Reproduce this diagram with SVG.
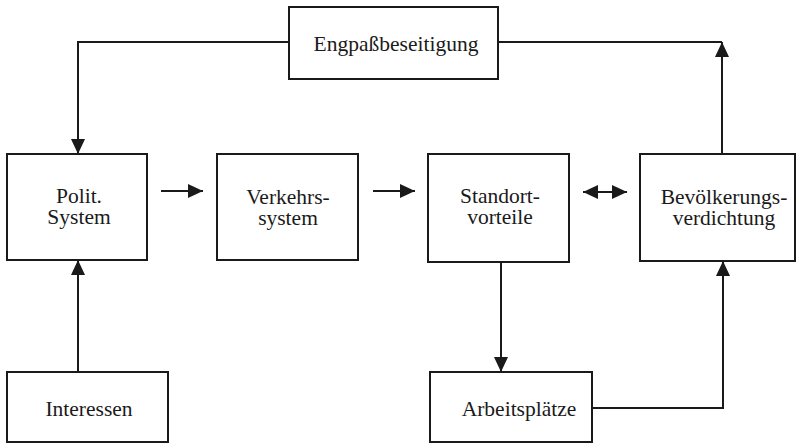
<svg xmlns="http://www.w3.org/2000/svg" width="797" height="445" viewBox="0 0 797 445">
<style>
.box{fill:#fff;stroke:#1a1a1a;stroke-width:2}
.lbl{font-family:'Liberation Serif','DejaVu Serif',serif;font-size:21.5px;fill:#1a1a1a;text-anchor:middle}
.con{fill:none;stroke:#1a1a1a;stroke-width:2}
</style>
<defs>
<marker id="ah" markerUnits="userSpaceOnUse" markerWidth="15" markerHeight="14" refX="15" refY="7" orient="auto-start-reverse" viewBox="0 0 15 14">
<path d="M0,0 L15,7 L0,14 z" fill="#1a1a1a"/>
</marker>
</defs>
<rect width="797" height="445" fill="#fff"/>
<g id="connectors">
<path class="con" d="M289,42 H78 V154" marker-end="url(#ah)"/>
<path class="con" d="M498,42 H722"/>
<path class="con" d="M722,154 V42" marker-end="url(#ah)"/>
<path class="con" d="M161,191 H203" marker-end="url(#ah)"/>
<path class="con" d="M373,191 H415" marker-end="url(#ah)"/>
<path class="con" d="M583,192 H627" marker-start="url(#ah)" marker-end="url(#ah)"/>
<path class="con" d="M78,372 V260" marker-end="url(#ah)"/>
<path class="con" d="M501,262 V372" marker-end="url(#ah)"/>
<path class="con" d="M592,408 H723 V261" marker-end="url(#ah)"/>
</g>
<g id="engpass">
<rect class="box" x="289" y="7" width="209" height="72"/>
<text class="lbl" x="396" y="51">Engpaßbeseitigung</text>
</g>
<g id="polit">
<rect class="box" x="7" y="154" width="140" height="106"/>
<text class="lbl" x="79" y="203">Polit.</text>
<text class="lbl" x="79" y="224">System</text>
</g>
<g id="verkehr">
<rect class="box" x="217" y="154" width="141" height="106"/>
<text class="lbl" x="288" y="204">Verkehrs-</text>
<text class="lbl" x="288" y="225">system</text>
</g>
<g id="standort">
<rect class="box" x="428" y="154" width="141" height="108"/>
<text class="lbl" x="500" y="203">Standort-</text>
<text class="lbl" x="500" y="224">vorteile</text>
</g>
<g id="bevoelkerung">
<rect class="box" x="640" y="154" width="155" height="107"/>
<text class="lbl" x="724" y="204">Bevölkerungs-</text>
<text class="lbl" x="724" y="225">verdichtung</text>
</g>
<g id="interessen">
<rect class="box" x="7" y="372" width="161" height="70"/>
<text class="lbl" x="89" y="416">Interessen</text>
</g>
<g id="arbeitsplaetze">
<rect class="box" x="430" y="372" width="162" height="70"/>
<text class="lbl" x="519" y="416">Arbeitsplätze</text>
</g>
</svg>
